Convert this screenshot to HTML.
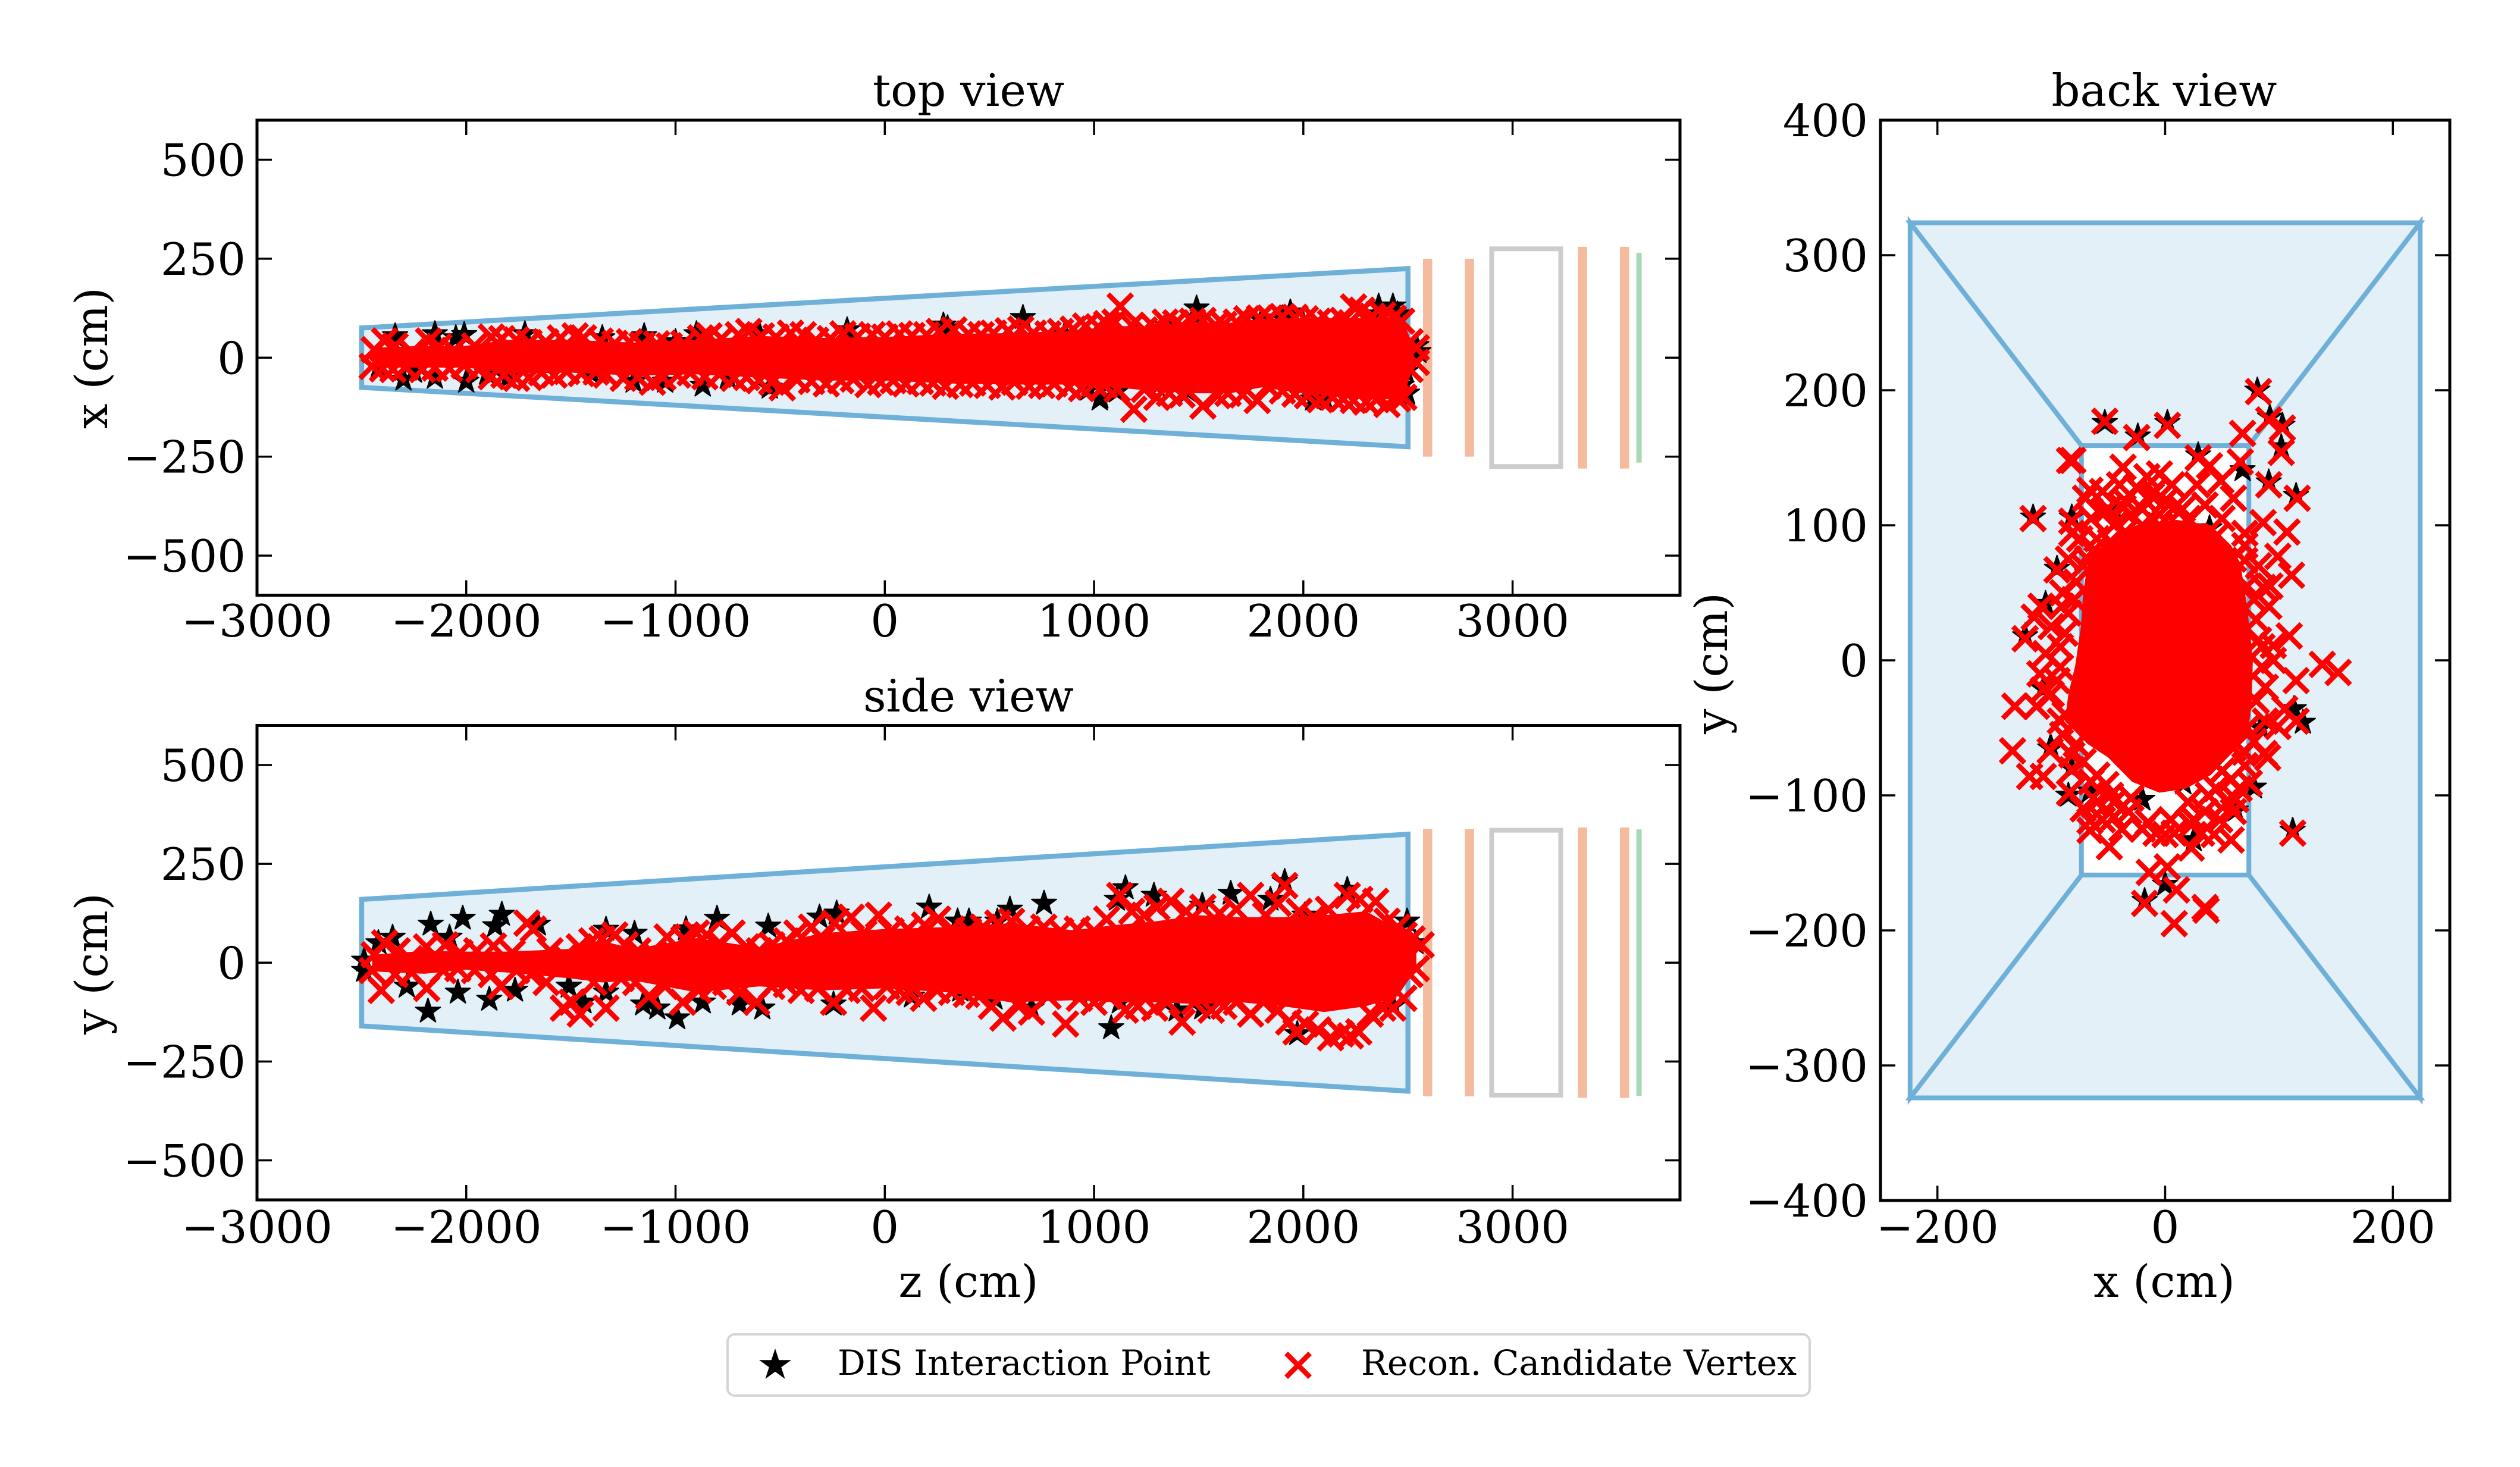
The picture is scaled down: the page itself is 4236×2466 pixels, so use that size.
<!DOCTYPE html>
<html lang="en">
<head>
<meta charset="utf-8">
<title>DIS interaction points and reconstructed candidate vertices</title>
<style>
html,body{margin:0;padding:0;background:#fff;}
svg{display:block;}
text{font-family:"DejaVu Serif","Liberation Serif",serif;fill:#000;}
.big{font-size:75px;}
.leg{font-size:58.3px;}
</style>
</head>
<body>
<svg id="chart" xmlns="http://www.w3.org/2000/svg" width="4236" height="2466" viewBox="0 0 4236 2466">
<rect x="0" y="0" width="4236" height="2466" fill="#ffffff"/>
<g id="plots"></g>
<text class="big" x="1628" y="178" text-anchor="middle">top view</text>
<text class="big" x="1628" y="1196" text-anchor="middle">side view</text>
<text class="big" x="3638" y="178" text-anchor="middle">back view</text>
<text class="big" transform="translate(180,602) rotate(-90)" text-anchor="middle">x (cm)</text>
<text class="big" transform="translate(180,1620) rotate(-90)" text-anchor="middle">y (cm)</text>
<text class="big" transform="translate(2903,1115) rotate(-90)" text-anchor="middle">y (cm)</text>
<text class="big" x="1628" y="2180" text-anchor="middle">z (cm)</text>
<text class="big" x="3638" y="2180" text-anchor="middle">x (cm)</text>
<g>
<rect x="1223" y="2243" width="1819" height="103" rx="12" ry="12" fill="#ffffff" stroke="#d5d5d5" stroke-width="4"/>
<polygon points="1303,2270 1308.6,2287.3 1326.8,2287.3 1312.1,2298 1317.7,2315.3 1303,2304.6 1288.3,2315.3 1293.9,2298 1279.2,2287.3 1297.4,2287.3" fill="#000" stroke="#000" stroke-width="2"/>
<text class="leg" x="1408" y="2311">DIS Interaction Point</text>
<path d="M2162 2275L2202 2315M2162 2315L2202 2275" stroke="#ff0000" stroke-width="8.5" fill="none"/>
<text class="leg" x="2288" y="2311">Recon. Candidate Vertex</text>
</g>
</svg>
<script>
const zTicks = [-3000,-2000,-1000,0,1000,2000,3000];
const transverseTicks = [-500,-250,0,250,500];
const backXTicks = [-200,0,200];
const backYTicks = [-400,-300,-200,-100,0,100,200,300,400];

const decayOutlineZ = [-2500,2500,2500,-2500];
const topOutlineX = [75,225,-225,-75];
const sideOutlineY = [160,325,-325,-160];
const backWallX = [[-224,224,73.5,-73.5],[224,224,73.5,73.5],[224,-224,-73.5,73.5],[-224,-224,-73.5,-73.5]];
const backWallY = [[324,324,159,159],[324,-324,-159,159],[-324,-324,-159,-159],[-324,324,159,-159]];

const stationZ = [2594,2794,3334,3535];
const stationTopHalf = [250,250,280,280];
const stationSideHalf = [338,338,342,342];
const vetoZ = [3604];
const vetoTopHalf = [265];
const vetoSideHalf = [337];
const magnetZ = [2900,3230];
const magnetTopHalf = [275];
const magnetSideHalf = [335];

const topStarZ = [-2420,-2340,-2300,-2250,-2150,-2150,-2050,-2010,-2000,-1900,
-1800,-1720,-1400,-1350,-1200,-1150,-1050,-1000,-900,-870,
-750,-600,-550,-180,280,300,660,860,973,1027,
1030,1080,1109,1200,1300,1350,1450,1490,1500,1800,
1900,1938,2000,2047,2100,2350,2360,2428,2450,2460,
2470,2490,2496,2540,2550];
const topStarX = [-25,55,-55,-35,60,-50,50,58,-60,-40,
-50,60,-40,50,-60,55,-60,40,60,-70,
-50,60,-75,70,82,75,101,60,-80,-105,
-100,-60,-85,50,-70,80,-85,125,100,95,
100,115,85,-105,-100,110,130,130,110,-100,
-70,-35,-90,30,15];

const topCoreZ = [-2450,-2200,-2000,-1800,-1500,-1200,-900,-600,-300,0,300,600,900,1100,1300,1500,1650,1800,2000,2200,2400,2480,2530];
const topCoreHigh = [25,30,30,45,45,38,45,55,50,52,60,62,68,80,78,88,88,98,100,100,100,90,20];
const topCoreLow = [-25,-25,-25,-40,-38,-45,-42,-50,-58,-58,-65,-68,-68,-75,-85,-90,-90,-75,-90,-100,-105,-95,-15];

const topCrossZ = [-2440,-2390,-2340,-2260,-2180,-2130,-2060,-1960,-1880,-1830,
-1760,-1700,-1620,-1550,-1480,-1440,-1360,-1290,-1220,-1160,
-1090,-1030,-960,-880,-840,-780,-700,-650,-590,-520,
-450,-390,-330,-260,-200,-130,-60,0,70,130,
200,260,330,400,460,520,590,650,710,780,
840,900,960,1020,1060,1100,1125,1180,1240,1290,
1340,1390,1420,1470,1520,1580,1620,1680,1730,1790,
1840,1900,1960,2010,2070,2130,2190,2240,2280,2330,
2380,2430,2470,2510,2540,
-2450,-2400,-2350,-2290,-2210,-2150,-2080,-2010,-1940,-1880,
-1820,-1760,-1700,-1640,-1580,-1520,-1450,-1380,-1330,-1250,
-1180,-1110,-1060,-990,-930,-860,-790,-720,-660,-600,
-540,-490,-420,-350,-280,-210,-150,-80,-20,40,
100,170,230,290,360,420,490,560,620,690,
750,810,880,940,1000,1050,1110,1190,1240,1300,
1360,1420,1450,1520,1590,1640,1710,1780,1830,1900,
1960,2020,2080,2140,2190,2240,2300,2350,2400,2450,
2480,2510,2540];
const topCrossX = [20,42,30,14,42,28,18,30,52,48,
45,38,40,50,55,50,42,36,40,32,
35,30,36,50,55,48,58,66,55,52,
62,58,44,48,60,54,58,52,60,56,
58,66,70,60,58,62,68,72,62,60,
66,72,80,78,86,90,130,82,70,76,
90,88,80,92,94,82,84,90,98,100,
100,104,102,98,92,88,94,128,120,105,
108,100,92,40,25,
-22,-28,-30,-24,-30,-26,-28,-20,-30,-48,
-44,-52,-50,-38,-44,-35,-40,-36,-44,-52,
-50,-62,-50,-44,-38,-48,-42,-52,-50,-58,
-62,-76,-56,-60,-66,-58,-54,-68,-62,-58,
-66,-60,-64,-72,-68,-64,-70,-74,-62,-72,
-70,-66,-74,-78,-66,-70,-80,-130,-80,-100,
-90,-94,-84,-122,-96,-90,-94,-108,-72,-84,
-92,-96,-106,-100,-104,-108,-112,-106,-118,-104,
-100,-30,-12];

const sideStarZ = [-2170,-2017,-1830,-1862,-1658,-2352,-2420,-2488,-2488,-2284,
-2183,-2040,-1890,-2080,-1767,-1510,-1440,-1332,-1196,-1332,
-1155,-1087,-992,-870,-693,-585,-802,-950,-557,-312,
-230,-245,212,348,402,761,538,598,1082,1150,
1109,1286,1517,1653,1911,1843,2006,2210,2496,2536,
1971,2428,1395,1517,524,130,361,701,932,1123];
const sideStarY = [97,112,122,93,97,64,50,6,-20,-60,
-123,-75,-93,64,-70,-60,-100,-75,74,84,
-105,-115,-140,-100,-105,-115,112,85,92,115,
125,-105,140,105,105,150,105,135,-165,189,
160,170,145,175,205,160,120,185,105,50,
-180,-110,-120,-115,-90,-85,-70,-115,-80,-100];

const sideCoreZ = [-2450,-2200,-2000,-1800,-1500,-1350,-1200,-900,-600,-300,0,300,600,900,1100,1300,1500,1700,1900,2100,2300,2450,2540];
const sideCoreHigh = [20,30,28,28,35,55,35,62,38,75,85,90,100,82,95,105,120,115,115,120,130,85,35];
const sideCoreLow = [-22,-28,-18,-25,-40,-50,-45,-75,-60,-70,-65,-75,-100,-95,-100,-100,-105,-100,-110,-125,-110,-85,-15];

const sideCrossZ = [-2440,-2390,-2330,-2270,-2190,-2100,-2030,-1950,-1870,-1780,
-1710,-1680,-1600,-1530,-1460,-1400,-1350,-1290,-1240,-1180,
-1100,-1040,-960,-900,-850,-790,-730,-660,-600,-540,
-470,-420,-350,-300,-240,-160,-100,-30,30,110,
190,253,320,400,470,540,606,680,760,840,
920,1000,1060,1123,1180,1240,1300,1367,1440,1520,
1600,1680,1748,1820,1880,1911,1980,2050,2120,2210,
2270,2346,2400,2450,2482,2520,2563,
-2450,-2406,-2340,-2260,-2189,-2110,-2040,-1960,-1880,-1835,
-1760,-1690,-1618,-1536,-1495,-1455,-1390,-1332,-1260,-1190,
-1128,-1050,-965,-890,-820,-760,-693,-612,-540,-470,
-400,-320,-245,-180,-110,-54,10,70,117,185,
250,320,390,450,510,565,640,701,780,864,
930,1000,1070,1150,1210,1290,1350,1421,1480,1560,
1620,1680,1748,1810,1880,1930,1965,2010,2070,2130,
2180,2225,2265,2320,2380,2428,2480,2509,2540];
const sideCrossY = [20,50,30,10,40,45,25,30,42,25,
100,85,30,15,40,55,60,70,45,30,
20,65,60,75,70,50,75,40,30,45,
55,75,90,60,100,115,75,120,80,85,
95,110,85,80,90,100,105,85,90,80,
85,80,110,170,130,120,140,155,130,140,
125,135,170,120,150,195,130,115,135,170,
160,155,105,90,70,60,45,
-20,-70,-30,-25,-65,-20,-15,-20,-30,-60,
-20,-30,-50,-115,-100,-130,-50,-115,-40,-50,
-85,-60,-100,-70,-60,-50,-75,-100,-60,-55,
-70,-65,-100,-70,-65,-115,-60,-70,-75,-90,
-70,-75,-80,-85,-110,-140,-110,-125,-85,-155,
-90,-100,-85,-120,-110,-115,-100,-150,-100,-120,
-110,-100,-130,-100,-120,-150,-175,-155,-170,-190,
-180,-185,-175,-130,-115,-115,-90,-30,-15];

const backStarX = [39,68,29,-66,-82,-101,-107,25,0,84,
113,121,62,78,16,-20,81,-53,2,-24,
92,103,102,91,115,-116,-82,-45,-95,-105,
-123,112,-18,-100,-85];
const backStarY = [98,141,152,-97,-80,-65,-21,-133,-166,-50,
-36,-46,-111,-94,-91,-103,200,176,176,166,
180,174,158,132,122,106,106,112,68,42,
18,-126,-178,-65,-100];

const backCoreX = [-25,10,40,58,66,72,77,76,74,65,40,18,-5,-29,-50,-68,-88,-85,-79,-74,-72,-68,-50];
const backCoreY = [100,104,100,85,72,40,0,-30,-45,-63,-85,-95,-98,-90,-72,-62,-45,-25,-4,25,50,72,90];

const backCrossX = [82,-53,2,-25,91,103,102,68,-84,-81,
29,39,66,49,91,116,-37,-66,-16,6,
-116,-82,-82,-53,-37,-12,8,70,86,107,
99,111,70,86,91,-95,-109,-91,-115,-123,
82,95,109,138,152,115,95,-132,-113,-107,
105,115,99,-134,-101,-119,-107,-82,-84,87,
90,74,62,-66,-49,-45,0,23,23,43,
58,112,2,-14,10,-18,35,36,8,-66,
-60,-45,-30,-5,20,45,60,72,80,85,
80,72,60,50,38,25,5,-15,-32,-48,
-60,-78,-88,-95,-92,-85,-78,-68,-55,-90,
-60,-38,65,55,70,
-70,-55,-40,-25,-10,0,15,-65,-50,-35,
-20,-5,-75,-62,-48,-35,-20,-85,-72,-90,
-80,-100,-88,-105,-92,-110,-100,-92,-82,-72,
-65,-52,-45,-30,-20,-8,8,20,35,45,
58,70,78,88,60,48,32,-55,-72,85,
88,78,92,82,70,50,60,35,28,-5];
const backCrossY = [199,177,174,165,178,172,154,168,148,148,
150,144,147,133,130,120,143,126,136,130,
105,103,94,110,113,122,113,94,102,95,
77,63,74,54,40,67,40,40,32,16,
15,11,18,-3,-9,-15,0,-34,-34,-22,
-36,-45,-49,-67,-67,-86,-86,-81,-98,-69,
-72,-91,-103,-126,-138,-116,-129,-139,-122,-129,
-133,-128,-153,-157,-170,-180,-183,-185,-195,-119,
90,100,108,100,105,92,75,55,30,-5,
-30,-50,-65,-82,-100,-118,-118,-120,-112,-100,
-85,-62,-40,-15,10,35,58,75,60,-55,
-105,-125,-95,-105,-78,
120,125,130,128,125,118,112,105,112,118,
112,108,90,82,88,95,100,75,70,50,
45,25,20,5,-5,-10,-25,-45,-70,-75,
-90,-92,-105,-102,-125,-128,-128,-105,-112,-95,
-88,-68,-60,-45,-112,-118,-128,-118,-110,10,
-20,45,55,70,85,105,120,115,130,138];

const NS = 'http://www.w3.org/2000/svg';
const plots = document.getElementById('plots');

function make(tag, parent) {
  const node = document.createElementNS(NS, tag);
  parent.appendChild(node);
  return node;
}
function scale(d0, d1, r0, r1) {
  return function (v) { return r0 + (v - d0) * (r1 - r0) / (d1 - d0); };
}
function pointsOf(xs, ys, sx, sy) {
  return xs.map(function (x, i) { return sx(x).toFixed(1) + ',' + sy(ys[i]).toFixed(1); }).join(' ');
}
function starPoints(cx, cy) {
  const out = [];
  const outer = 22, inner = 8.5;
  for (let k = 0; k < 10; k++) {
    const r = k % 2 ? inner : outer;
    const a = -Math.PI / 2 + k * Math.PI / 5;
    out.push((cx + r * Math.cos(a)).toFixed(1) + ',' + (cy + r * Math.sin(a)).toFixed(1));
  }
  return out.join(' ');
}
function crossPath(cx, cy) {
  const h = 20.3;
  return 'M' + (cx - h).toFixed(1) + ' ' + (cy - h).toFixed(1) + 'L' + (cx + h).toFixed(1) + ' ' + (cy + h).toFixed(1) +
    'M' + (cx - h).toFixed(1) + ' ' + (cy + h).toFixed(1) + 'L' + (cx + h).toFixed(1) + ' ' + (cy - h).toFixed(1);
}
function tickLabel(v) {
  return v < 0 ? '\u2212' + Math.abs(v) : String(v);
}

function drawScatter(g, sx, sy, starA, starB, crossA, crossB) {
  const stars = make('g', g);
  
  
  starA.forEach(function (a, i) {
    const star = make('polygon', stars);
    
    
    star.setAttribute('points', starPoints(sx(a), sy(starB[i])));
    star.setAttribute('fill', '#000000');
    star.setAttribute('stroke', '#000000');
    star.setAttribute('stroke-width', '2');
    star.setAttribute('stroke-linejoin', 'round');
  });
  return function drawCrosses() {
    const crosses = make('g', g);
    
    
    crossA.forEach(function (a, i) {
      const cross = make('path', crosses);
      
      
      cross.setAttribute('d', crossPath(sx(a), sy(crossB[i])));
      cross.setAttribute('stroke', '#ff0000');
      cross.setAttribute('stroke-width', '8.5');
      cross.setAttribute('fill', 'none');
    });
  };
}

function drawAxes(g, box, sx, sy, xTicks, yTicks, xLabelY, yLabelRight) {
  const tickLen = 25;
  xTicks.forEach(function (v) {
    const x = sx(v);
    const bottom = make('line', g);
    
    
    bottom.setAttribute('x1', x); bottom.setAttribute('x2', x);
    bottom.setAttribute('y1', box.bottom); bottom.setAttribute('y2', box.bottom - tickLen);
    bottom.setAttribute('stroke', '#000'); bottom.setAttribute('stroke-width', '3.5');
    const top = make('line', g);
    
    
    top.setAttribute('x1', x); top.setAttribute('x2', x);
    top.setAttribute('y1', box.top); top.setAttribute('y2', box.top + tickLen);
    top.setAttribute('stroke', '#000'); top.setAttribute('stroke-width', '3.5');
    const label = make('text', g);
    
    
    label.setAttribute('class', 'big');
    label.setAttribute('x', x);
    label.setAttribute('y', xLabelY);
    label.setAttribute('text-anchor', 'middle');
    label.textContent = tickLabel(v);
  });
  yTicks.forEach(function (v) {
    const y = sy(v);
    const left = make('line', g);
    
    
    left.setAttribute('x1', box.left); left.setAttribute('x2', box.left + tickLen);
    left.setAttribute('y1', y); left.setAttribute('y2', y);
    left.setAttribute('stroke', '#000'); left.setAttribute('stroke-width', '3.5');
    const right = make('line', g);
    
    
    right.setAttribute('x1', box.right); right.setAttribute('x2', box.right - tickLen);
    right.setAttribute('y1', y); right.setAttribute('y2', y);
    right.setAttribute('stroke', '#000'); right.setAttribute('stroke-width', '3.5');
    const label = make('text', g);
    
    
    label.setAttribute('class', 'big');
    label.setAttribute('x', yLabelRight);
    label.setAttribute('y', y + 27);
    label.setAttribute('text-anchor', 'end');
    label.textContent = tickLabel(v);
  });
  const frame = make('rect', g);
  
  
  frame.setAttribute('x', box.left);
  frame.setAttribute('y', box.top);
  frame.setAttribute('width', box.right - box.left);
  frame.setAttribute('height', box.bottom - box.top);
  frame.setAttribute('fill', 'none');
  frame.setAttribute('stroke', '#000');
  frame.setAttribute('stroke-width', '5');
}

function drawLongitudinal(id, box, outlineY, stationHalf, vetoHalf, magnetHalf, starA, starB, crossA, crossB, coreZ, coreHigh, coreLow, xLabelY) {
  const g = make('g', plots);
  
  
  const sx = scale(-3000, 3800, box.left, box.right);
  const sy = scale(-600, 600, box.bottom, box.top);

  const outline = make('polygon', g);
  
  
  outline.setAttribute('points', pointsOf(decayOutlineZ, outlineY, sx, sy));
  outline.setAttribute('fill', '#e3f0f8');
  outline.setAttribute('stroke', '#6fb0d8');
  outline.setAttribute('stroke-width', '8.5');
  outline.setAttribute('stroke-miterlimit', '10');

  stationZ.forEach(function (z, i) {
    const bar = make('line', g);
    
    
    bar.setAttribute('x1', sx(z)); bar.setAttribute('x2', sx(z));
    bar.setAttribute('y1', sy(stationHalf[i])); bar.setAttribute('y2', sy(-stationHalf[i]));
    bar.setAttribute('stroke', '#f5bb9e');
    bar.setAttribute('stroke-width', '15.5');
  });
  vetoZ.forEach(function (z, i) {
    const bar = make('line', g);
    
    
    bar.setAttribute('x1', sx(z)); bar.setAttribute('x2', sx(z));
    bar.setAttribute('y1', sy(vetoHalf[i])); bar.setAttribute('y2', sy(-vetoHalf[i]));
    bar.setAttribute('stroke', '#a8d8b5');
    bar.setAttribute('stroke-width', '9');
  });
  const magnet = make('rect', g);
  
  
  magnet.setAttribute('x', sx(magnetZ[0]));
  magnet.setAttribute('y', sy(magnetHalf[0]));
  magnet.setAttribute('width', sx(magnetZ[1]) - sx(magnetZ[0]));
  magnet.setAttribute('height', sy(-magnetHalf[0]) - sy(magnetHalf[0]));
  magnet.setAttribute('fill', 'none');
  magnet.setAttribute('stroke', '#cccccc');
  magnet.setAttribute('stroke-width', '8');

  const drawCrosses = drawScatter(g, sx, sy, starA, starB, crossA, crossB);

  const core = make('polygon', g);
  
  
  const upper = pointsOf(coreZ, coreHigh, sx, sy);
  const lower = pointsOf(coreZ.slice().reverse(), coreLow.slice().reverse(), sx, sy);
  core.setAttribute('points', upper + ' ' + lower);
  core.setAttribute('fill', '#ff0000');

  drawCrosses();
  drawAxes(g, box, sx, sy, zTicks, transverseTicks, xLabelY, 413);
}

drawLongitudinal('top-view', {left:432, right:2824, top:202, bottom:1000.5}, topOutlineX, stationTopHalf, vetoTopHalf, magnetTopHalf,
  topStarZ, topStarX, topCrossZ, topCrossX, topCoreZ, topCoreHigh, topCoreLow, 1070);
drawLongitudinal('side-view', {left:432, right:2824, top:1219.5, bottom:2017}, sideOutlineY, stationSideHalf, vetoSideHalf, magnetSideHalf,
  sideStarZ, sideStarY, sideCrossZ, sideCrossY, sideCoreZ, sideCoreHigh, sideCoreLow, 2089);

(function drawBack() {
  const box = {left:3161, right:4118, top:202, bottom:2018};
  const g = make('g', plots);
  
  
  const sx = scale(-250, 250, box.left, box.right);
  const sy = scale(-400, 400, box.bottom, box.top);
  backWallX.forEach(function (xs, i) {
    const wall = make('polygon', g);
    
    
    wall.setAttribute('points', pointsOf(xs, backWallY[i], sx, sy));
    wall.setAttribute('fill', '#e3f0f8');
    wall.setAttribute('stroke', '#6fb0d8');
    wall.setAttribute('stroke-width', '8');
    wall.setAttribute('stroke-miterlimit', '10');
  });
  const drawCrosses = drawScatter(g, sx, sy, backStarX, backStarY, backCrossX, backCrossY);
  const core = make('polygon', g);
  
  
  core.setAttribute('points', pointsOf(backCoreX, backCoreY, sx, sy));
  core.setAttribute('fill', '#ff0000');
  drawCrosses();
  drawAxes(g, box, sx, sy, backXTicks, backYTicks, 2089, 3140);
})();
</script>
</body>
</html>
